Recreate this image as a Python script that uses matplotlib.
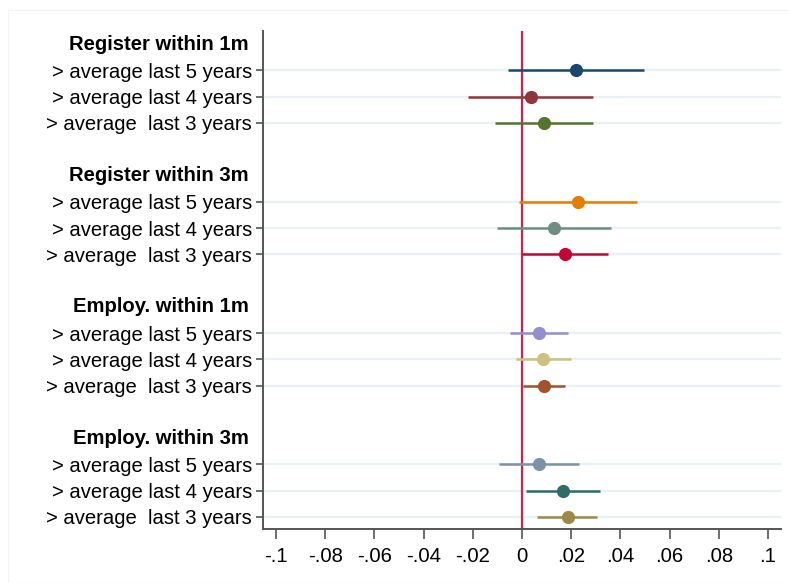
import matplotlib
matplotlib.use('Agg')
import matplotlib.pyplot as plt
import matplotlib.patches as mpatches
from matplotlib import transforms

# ── DATA ─────────────────────────────────────────────────────────────────
groups = ['Register within 1m', 'Register within 3m',
          'Employ. within 1m', 'Employ. within 3m']
rows = ['> average last 5 years', '> average last 4 years',
        '> average  last 3 years']

coef = [[0.0220, 0.0035, 0.0090],
        [0.0228, 0.0129, 0.0175],
        [0.0068, 0.0087, 0.0089],
        [0.0068, 0.0165, 0.0186]]
ci_lo = [[-0.0056, -0.0220, -0.0110],
         [-0.0013, -0.0102, 0.0001],
         [-0.0049, -0.0023, 0.0003],
         [-0.0093, 0.0015, 0.0062]]
ci_hi = [[0.0496, 0.0290, 0.0290],
         [0.0466, 0.0362, 0.0350],
         [0.0186, 0.0198, 0.0176],
         [0.0230, 0.0317, 0.0306]]

colors = [['#1a476f', '#90353b', '#55752f'],
          ['#e37e00', '#6e8e84', '#c10534'],
          ['#938dd2', '#cac27e', '#a0522d'],
          ['#7b92a8', '#2d6d66', '#9c8847']]

xticks = [-0.1, -0.08, -0.06, -0.04, -0.02, 0, 0.02, 0.04, 0.06, 0.08, 0.1]
xticklabels = ['-.1', '-.08', '-.06', '-.04', '-.02', '0',
               '.02', '.04', '.06', '.08', '.1']

# ── PLOT ──────────────────────────────────────────────────────────────────
plt.rcParams['font.family'] = ['Liberation Sans', 'DejaVu Sans']
FS = 14.6

fig = plt.figure(figsize=(7.89, 5.83), dpi=100)
fig.patch.set_facecolor('white')
fig.patches.append(mpatches.Rectangle((8 / 789, 0), 1, 1 - 10 / 583,
                                      transform=fig.transFigure,
                                      fill=False, edgecolor='#f4f4f4',
                                      linewidth=0.8))
ax = fig.add_axes([0.3333, 0.0926, 0.6566, 0.8542])

GRID = '#eaf0f4'
SPINE = '#555555'

row_pos, row_lab, head_pos = [], [], []
pos = 0
for g, name in enumerate(groups):
    head_pos.append(pos)
    pos += 1
    for r in range(len(rows)):
        y = pos
        ax.axhline(y, color=GRID, linewidth=1.6, zorder=0)
        ax.plot([ci_lo[g][r], ci_hi[g][r]], [y, y], color=colors[g][r],
                linewidth=1.8, solid_capstyle='butt', zorder=3)
        ax.plot(coef[g][r], y, 'o', color=colors[g][r], markersize=9.5,
                markeredgewidth=0, zorder=4)
        row_pos.append(y)
        row_lab.append(rows[r])
        pos += 1
    pos += 1

ax.axvline(0, color='#d81e4c', linewidth=1.6, zorder=2)

ax.set_xlim(-0.1053, 0.1053)
ax.set_ylim(row_pos[-1] + 0.46, -0.5)

ax.set_yticks(row_pos)
ax.set_yticklabels(row_lab, fontsize=FS)
ax.set_xticks(xticks)
ax.set_xticklabels(xticklabels, fontsize=FS)
ax.tick_params(axis='y', length=5, width=1.2, color=SPINE, pad=3)
ax.tick_params(axis='x', length=7, width=1.2, color=SPINE, pad=6)

trans = transforms.blended_transform_factory(ax.transAxes, ax.transData)
for hp, name in zip(head_pos, groups):
    ax.text(-0.027, hp, name, transform=trans, ha='right', va='center',
            fontsize=FS, fontweight='bold')

for side in ['top', 'right']:
    ax.spines[side].set_visible(False)
for side in ['left', 'bottom']:
    ax.spines[side].set_color(SPINE)
    ax.spines[side].set_linewidth(1.4)

plt.savefig('out.png', dpi=100, facecolor='white')
plt.close()
